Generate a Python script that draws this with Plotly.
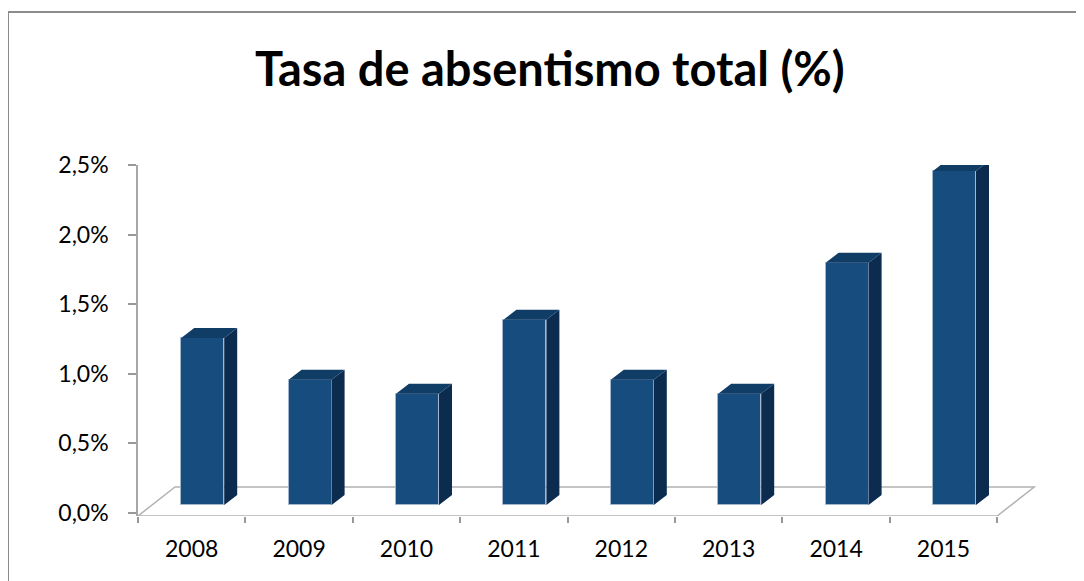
import plotly.graph_objects as go

# ---- data ----
years = ["2008", "2009", "2010", "2011", "2012", "2013", "2014", "2015"]
values = [1.2, 0.9, 0.8, 1.33, 0.9, 0.8, 1.74, 2.4]
y_ticks = [0.0, 0.5, 1.0, 1.5, 2.0, 2.5]
y_tick_text = [f"{v:.1f}".replace(".", ",") + "%" for v in y_ticks]

# ---- geometry (style); page is offset by 8px body margin ----
OFF = 8
W, H = 1084, 581
L, R, T, B = 138 - OFF, 1037 - OFF, 165 - OFF, 516 - OFF
PX_X = 107.4          # px per category
PX_Y = 139.2          # px per 1 %
ZERO_PX = 513 - OFF
x_max = (R - L) / PX_X
y_min = -(B - ZERO_PX) / PX_Y

floor_front = y_min
floor_back = (ZERO_PX - (487 - OFF)) / PX_Y
floor_dx = 37 / PX_X
bar_base = (ZERO_PX - (505 - OFF)) / PX_Y
bar_off = 11 / PX_X
bar_w = 43 / PX_X
ddx = 13 / PX_X
ddy = 10 / PX_Y

front_col = "#174C7F"
side_col = "#0C2C4F"
top_col = "#0F3D66"
n = len(years)

fig = go.Figure()

xc = [i + 0.5 + bar_off for i in range(n)]
fig.add_trace(go.Bar(
    x=xc, y=values, base=[bar_base] * n, width=bar_w,
    marker=dict(color=front_col, line=dict(color="rgba(170,188,210,0.8)", width=1)),
    hovertext=years, name="Tasa de absentismo", showlegend=False,
))

sx, sy, tx, ty = [], [], [], []
for c, v in zip(xc, values):
    xl, xr = c - bar_w / 2, c + bar_w / 2
    top = bar_base + v
    sx += [xr, xr + ddx, xr + ddx, xr, xr, None]
    sy += [bar_base, bar_base + ddy, top + ddy, top, bar_base, None]
    tx += [xl, xl + ddx, xr + ddx, xr, xl, None]
    ty += [top, top + ddy, top + ddy, top, top, None]

fig.add_trace(go.Scatter(x=sx, y=sy, fill="toself", fillcolor=side_col, mode="lines",
                         line=dict(width=0, color=side_col), hoverinfo="skip", showlegend=False))
fig.add_trace(go.Scatter(x=tx, y=ty, fill="toself", fillcolor=top_col, mode="lines",
                         line=dict(width=0, color=top_col), hoverinfo="skip", showlegend=False))

# floor outline
floor_path = (f"M 0 {floor_front} L {n} {floor_front} L {n + floor_dx} {floor_back} "
              f"L {floor_dx} {floor_back} Z")
shapes = [dict(type="path", path=floor_path, xref="x", yref="y", layer="below",
               line=dict(color="#B3B3B3", width=1.5))]

# chart frame (figure pixel -> paper coords)
fx = lambda px: (px - L) / (R - L)
fy = lambda py: (B - py) / (B - T)
shapes.append(dict(type="line", xref="paper", yref="paper",
                   x0=fx(0), x1=fx(0), y0=fy(H + 5), y1=fy(4),
                   line=dict(color="#8C8C8C", width=2)))
shapes.append(dict(type="line", xref="paper", yref="paper",
                   x0=fx(0), x1=fx(W + 5), y0=fy(4), y1=fy(4),
                   line=dict(color="#8C8C8C", width=2)))

fig.update_layout(
    width=W, height=H,
    margin=dict(l=L, r=W - R, t=T, b=H - B, autoexpand=False),
    paper_bgcolor="white", plot_bgcolor="rgba(0,0,0,0)",
    font=dict(family="Lato, 'Open Sans', sans-serif", size=23, color="black"),
    shapes=shapes,
    bargap=0,
    annotations=[dict(text="Tasa de absentismo total (%)", xref="paper", yref="paper",
                      x=fx(550 - OFF), y=fy(68 - OFF),
                      xanchor="center", yanchor="middle", showarrow=False,
                      font=dict(family="Lato", size=47, color="black", weight=700))],
    xaxis=dict(range=[0, x_max], showgrid=False, zeroline=False, showline=False,
               tickmode="array", tickvals=[i + 0.5 for i in range(n)], ticktext=years,
               ticks="", ticklabelstandoff=17,
               minor=dict(tickmode="array", tickvals=list(range(n + 1)), ticks="outside",
                          ticklen=6, tickcolor="#999999", tickwidth=1.5, showgrid=False),
               fixedrange=True),
    yaxis=dict(range=[y_min, 2.5], showgrid=False, zeroline=False,
               showline=True, linecolor="#A6A6A6", linewidth=1.5,
               tickmode="array", tickvals=y_ticks, ticktext=y_tick_text,
               ticks="outside", ticklen=8, tickcolor="#999999", tickwidth=1.5,
               ticklabelstandoff=15, fixedrange=True),
)

fig.write_html("out.html")
